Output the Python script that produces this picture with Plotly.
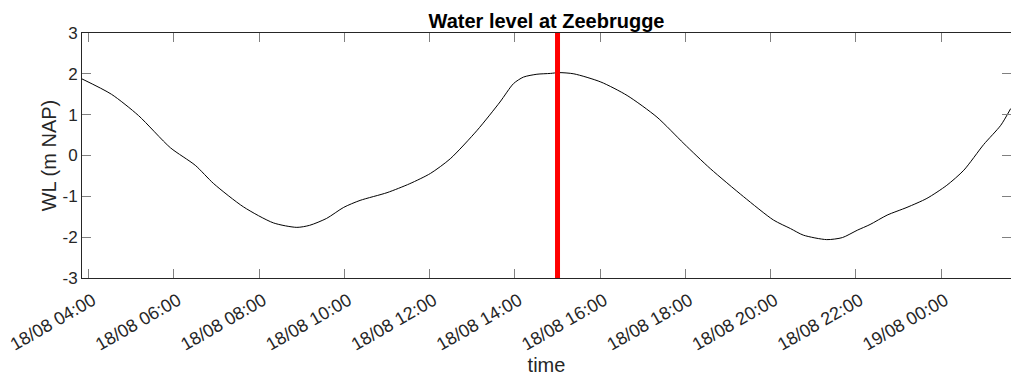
import plotly.graph_objects as go

# Water level series at Zeebrugge (m NAP)
times = [
    "2018-08-18 03:50", "2018-08-18 04:32", "2018-08-18 05:10", "2018-08-18 05:55",
    "2018-08-18 06:30", "2018-08-18 06:56", "2018-08-18 07:38", "2018-08-18 08:20",
    "2018-08-18 08:53", "2018-08-18 09:11", "2018-08-18 09:35", "2018-08-18 09:59",
    "2018-08-18 10:22", "2018-08-18 11:00", "2018-08-18 11:32", "2018-08-18 12:01",
    "2018-08-18 12:29", "2018-08-18 13:07", "2018-08-18 13:39", "2018-08-18 13:58",
    "2018-08-18 14:12", "2018-08-18 14:31", "2018-08-18 14:50", "2018-08-18 15:02",
    "2018-08-18 15:23", "2018-08-18 16:01", "2018-08-18 16:38", "2018-08-18 17:20",
    "2018-08-18 17:58", "2018-08-18 18:35", "2018-08-18 19:22", "2018-08-18 20:04",
    "2018-08-18 20:28", "2018-08-18 20:46", "2018-08-18 21:19", "2018-08-18 21:41",
    "2018-08-18 22:02", "2018-08-18 22:20", "2018-08-18 22:44", "2018-08-18 23:12",
    "2018-08-18 23:40", "2018-08-19 00:08", "2018-08-19 00:32", "2018-08-19 01:00",
    "2018-08-19 01:24", "2018-08-19 01:38",
]
water_level = [
    1.88, 1.50, 0.98, 0.19,
    -0.24, -0.69, -1.26, -1.65,
    -1.76, -1.71, -1.54, -1.27,
    -1.10, -0.91, -0.69, -0.44,
    -0.08, 0.62, 1.31, 1.76,
    1.92, 1.99, 2.01, 2.03,
    2.00, 1.80, 1.47, 0.94,
    0.29, -0.32, -1.01, -1.58,
    -1.79, -1.95, -2.06, -2.01,
    -1.83, -1.69, -1.46, -1.27,
    -1.05, -0.73, -0.36, 0.27,
    0.74, 1.15,
]

# Current moment marker
now_time = "2018-08-18 15:00"
y_limits = [-3, 3]
x_limits = ["2018-08-18 03:50:34", "2018-08-19 01:38:24"]
y_ticks = [-3, -2, -1, 0, 1, 2, 3]
y_tick_labels = ["-3", "-2", "-1", "0", "1", "2", "3"]

FONT = "Liberation Sans, Arial, sans-serif"
AX = "#262626"

fig = go.Figure()
fig.add_trace(go.Scatter(
    x=times, y=water_level, mode="lines",
    line=dict(color="black", width=1, shape="spline", smoothing=0.7),
    showlegend=False,
))
fig.add_trace(go.Scatter(
    x=[now_time, now_time], y=y_limits, mode="lines",
    line=dict(color="#ff0000", width=5), showlegend=False,
))

fig.update_layout(
    width=1011, height=376,
    margin=dict(l=82, r=0, t=33, b=98),
    paper_bgcolor="white", plot_bgcolor="white",
    font=dict(family=FONT, color=AX),
    title=dict(
        text="<b>Water level at Zeebrugge</b>",
        font=dict(size=20, color="black", family=FONT),
        x=0.5, xref="paper", xanchor="center",
        y=1, yref="paper", yanchor="bottom", pad=dict(b=5),
    ),
    xaxis=dict(
        range=x_limits, type="date",
        tick0="2018-08-18 00:00", dtick=7200000,
        tickformat="%d/%m %H:%M", tickangle=-30,
        tickfont=dict(size=18, color=AX),
        ticklabelshift=4, ticklabelstandoff=4,
        ticks="inside", ticklen=9, tickcolor="#808080", tickwidth=1,
        showline=True, linecolor=AX, linewidth=1, mirror="ticks",
        showgrid=False, zeroline=False,
        title=dict(text="time", font=dict(size=20, color=AX), standoff=10),
        automargin=False,
    ),
    yaxis=dict(
        range=y_limits, tickvals=y_ticks, ticktext=y_tick_labels,
        tickfont=dict(size=17, color=AX),
        ticks="inside", ticklen=9, tickcolor="#808080", tickwidth=1,
        showline=True, linecolor=AX, linewidth=1, mirror="ticks",
        showgrid=False, zeroline=False,
        title=dict(text="WL (m NAP)", font=dict(size=20, color=AX), standoff=0),
        automargin=False,
    ),
)

fig.write_html("out.html")
